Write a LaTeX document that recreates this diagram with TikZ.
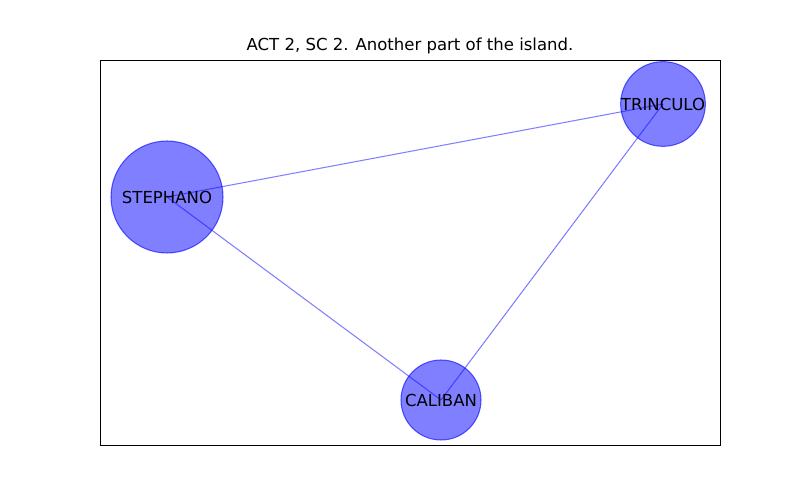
\documentclass[tikz,border=0pt]{standalone}
\usepackage{fontspec}
\setmainfont{DejaVu Sans}
\usepackage{xcolor}
\usetikzlibrary{backgrounds}
\definecolor{nxblue}{RGB}{0, 0, 255}

\begin{document}
\begin{tikzpicture}[
    every node/.style={font=\fontsize{9.4}{11}\selectfont},
    person/.style={circle, draw=nxblue, fill=nxblue, fill opacity=0.5, draw opacity=0.6, text opacity=1, inner sep=0pt, line width=0.6pt},
    link/.style={draw=nxblue, draw opacity=0.5, line width=0.6pt}
]
\useasboundingbox (0,0) rectangle (16,10);
\draw[line width=0.45pt] (2,1.1) rectangle (14.4,8.8);
\node (title) at (8.2,9.08) {ACT 2, SC 2. Another part of the island.};

\node[person, minimum size=2.24cm] (stephano) at (3.34,6.06) {STEPHANO};
\node[person, minimum size=1.6cm] (trinculo) at (13.26,7.92) {TRINCULO};
\node[person, minimum size=1.6cm] (caliban) at (8.82,2.0) {CALIBAN};

\begin{scope}[on background layer]
\draw[link] (stephano.center) -- (trinculo.center);
\draw[link] (stephano.center) -- (caliban.center);
\draw[link] (trinculo.center) -- (caliban.center);
\end{scope}
\end{tikzpicture}
\end{document}
